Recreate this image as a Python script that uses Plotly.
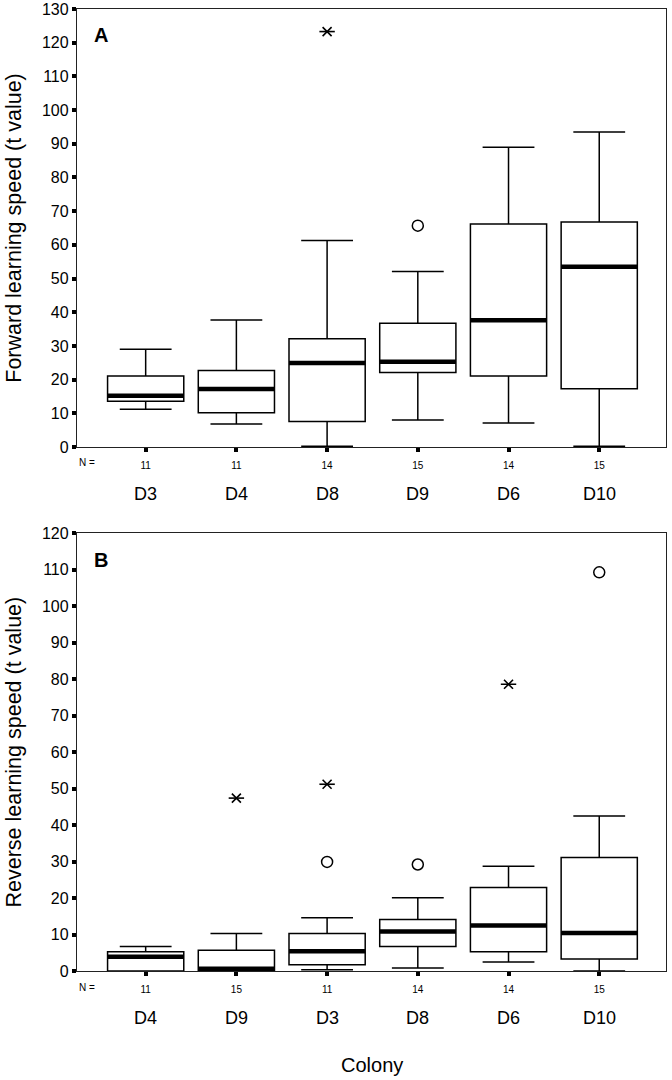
import plotly.graph_objects as go

FONT = "Liberation Sans, Arial, sans-serif"

# ---------------- Panel A: forward learning ----------------
catsA = ["D3", "D4", "D8", "D9", "D6", "D10"]
nA = [11, 11, 14, 15, 14, 15]
A_lower = [11.2, 6.8, 0.2, 8.0, 7.1, 0.2]
A_q1 = [13.6, 10.2, 7.6, 22.1, 21.1, 17.3]
A_med = [15.2, 17.2, 24.9, 25.3, 37.6, 53.5]
A_q3 = [21.1, 22.7, 32.1, 36.7, 66.2, 66.8]
A_upper = [29.0, 37.7, 61.3, 52.1, 89.0, 93.5]
A_out_cat = ["D9"]
A_out_val = [65.7]
A_ext_cat = ["D8"]
A_ext_val = [123.3]

# ---------------- Panel B: reverse learning ----------------
catsB = ["D4", "D9", "D3", "D8", "D6", "D10"]
nB = [11, 15, 11, 14, 14, 15]
B_lower = [0.0, 0.0, 0.35, 0.8, 2.5, 0.0]
B_q1 = [0.0, 0.0, 1.7, 6.7, 5.3, 3.3]
B_med = [3.9, 0.6, 5.4, 10.8, 12.5, 10.4]
B_q3 = [5.3, 5.7, 10.3, 14.1, 22.9, 31.1]
B_upper = [6.7, 10.3, 14.6, 20.1, 28.7, 42.5]
B_out_cat = ["D3", "D8", "D10"]
B_out_val = [29.9, 29.2, 109.3]
B_ext_cat = ["D9", "D3", "D6"]
B_ext_val = [47.4, 51.2, 78.6]

BOX_W = 0.84
fig = go.Figure()


def add_panel(cats, lo, q1, med, q3, up, oc, ov, ec, ev, xa, ya):
    fig.add_trace(go.Box(
        x=cats, q1=q1, median=med, q3=q3, lowerfence=lo, upperfence=up,
        width=BOX_W, whiskerwidth=0.68, boxpoints=False,
        line=dict(color="black", width=1.5), fillcolor="white",
        xaxis=xa, yaxis=ya, showlegend=False, hoverinfo="skip"))
    # thick median bar
    fig.add_trace(go.Box(
        x=cats, q1=med, median=med, q3=med, lowerfence=med, upperfence=med,
        width=BOX_W, whiskerwidth=0, boxpoints=False,
        line=dict(color="black", width=4.5), fillcolor="rgba(0,0,0,0)",
        xaxis=xa, yaxis=ya, showlegend=False, hoverinfo="skip"))
    fig.add_trace(go.Scatter(
        x=oc, y=ov, mode="markers", xaxis=xa, yaxis=ya, showlegend=False,
        marker=dict(symbol="circle-open", size=11, color="black",
                    line=dict(width=1.5, color="black"))))
    for sym, sz in (("x-thin-open", 9), ("line-ew-open", 11)):
        fig.add_trace(go.Scatter(
            x=ec, y=ev, mode="markers", xaxis=xa, yaxis=ya, showlegend=False,
            marker=dict(symbol=sym, size=sz, color="black",
                        line=dict(width=1.6, color="black"))))


add_panel(catsA, A_lower, A_q1, A_med, A_q3, A_upper,
          A_out_cat, A_out_val, A_ext_cat, A_ext_val, "x", "y")
add_panel(catsB, B_lower, B_q1, B_med, B_q3, B_upper,
          B_out_cat, B_out_val, B_ext_cat, B_ext_val, "x2", "y2")

xr = [-0.757, 5.736]
xcommon = dict(type="category", range=xr, showgrid=False, zeroline=False,
               showline=True, mirror=True, linecolor="#222", linewidth=1.3,
               ticks="outside", ticklen=4, tickwidth=3.5, tickcolor="black",
               ticklabelstandoff=5, automargin=False,
               tickfont=dict(family=FONT, size=10, color="black"),
               domain=[0, 1])
ycommon = dict(showgrid=False, zeroline=False, showline=True, mirror=True,
               linecolor="#222", linewidth=1.3, ticks="outside", ticklen=4,
               tickwidth=3.5, tickcolor="black", dtick=10, tick0=0,
               automargin=False,
               tickfont=dict(family=FONT, size=16, color="black"))

fig.update_layout(
    width=672, height=1080,
    margin=dict(l=77, r=6, t=9, b=109),
    paper_bgcolor="white", plot_bgcolor="white",
    font=dict(family=FONT, color="black"),
    xaxis=dict(xcommon, anchor="y", categoryorder="array", categoryarray=catsA,
               tickvals=catsA, ticktext=[str(n) for n in nA]),
    xaxis2=dict(xcommon, anchor="y2", categoryorder="array", categoryarray=catsB,
                tickvals=catsB, ticktext=[str(n) for n in nB]),
    yaxis=dict(ycommon, domain=[0.5447, 1.0], range=[0, 130], anchor="x",
               title=dict(text="Forward learning speed (t value)",
                          font=dict(family=FONT, size=21.5), standoff=14)),
    yaxis2=dict(ycommon, domain=[0.0, 0.455], range=[0, 120], anchor="x2",
                title=dict(text="Reverse learning speed (t value)",
                           font=dict(family=FONT, size=21.5), standoff=14)),
)

ann = []
for cats, xa, ya in ((catsA, "x", "y domain"), (catsB, "x2", "y2 domain")):
    for c in cats:
        ann.append(dict(x=c, xref=xa, y=0, yref=ya, yshift=-47,
                        text=c, showarrow=False, yanchor="middle",
                        font=dict(family=FONT, size=18)))
    ann.append(dict(x=0, xref=xa + " domain", y=0, yref=ya,
                    yshift=-16, text="N =", showarrow=False, yanchor="middle",
                    font=dict(family=FONT, size=10)))
ann.append(dict(x=0.025, xref="x domain", y=0.94, yref="y domain", text="<b>A</b>",
                showarrow=False, xanchor="left", yanchor="middle",
                font=dict(family=FONT, size=20)))
ann.append(dict(x=0.025, xref="x2 domain", y=0.94, yref="y2 domain", text="<b>B</b>",
                showarrow=False, xanchor="left", yanchor="middle",
                font=dict(family=FONT, size=20)))
ann.append(dict(x=0.5, xref="x2 domain", y=0, yref="y2 domain", yshift=-94,
                text="Colony", showarrow=False, yanchor="middle",
                font=dict(family=FONT, size=20)))
fig.update_layout(annotations=ann)

fig.write_html("out.html",
               config={"displayModeBar": False},
               post_script="document.body.style.margin='0';"
                           "document.body.style.overflow='hidden';")
